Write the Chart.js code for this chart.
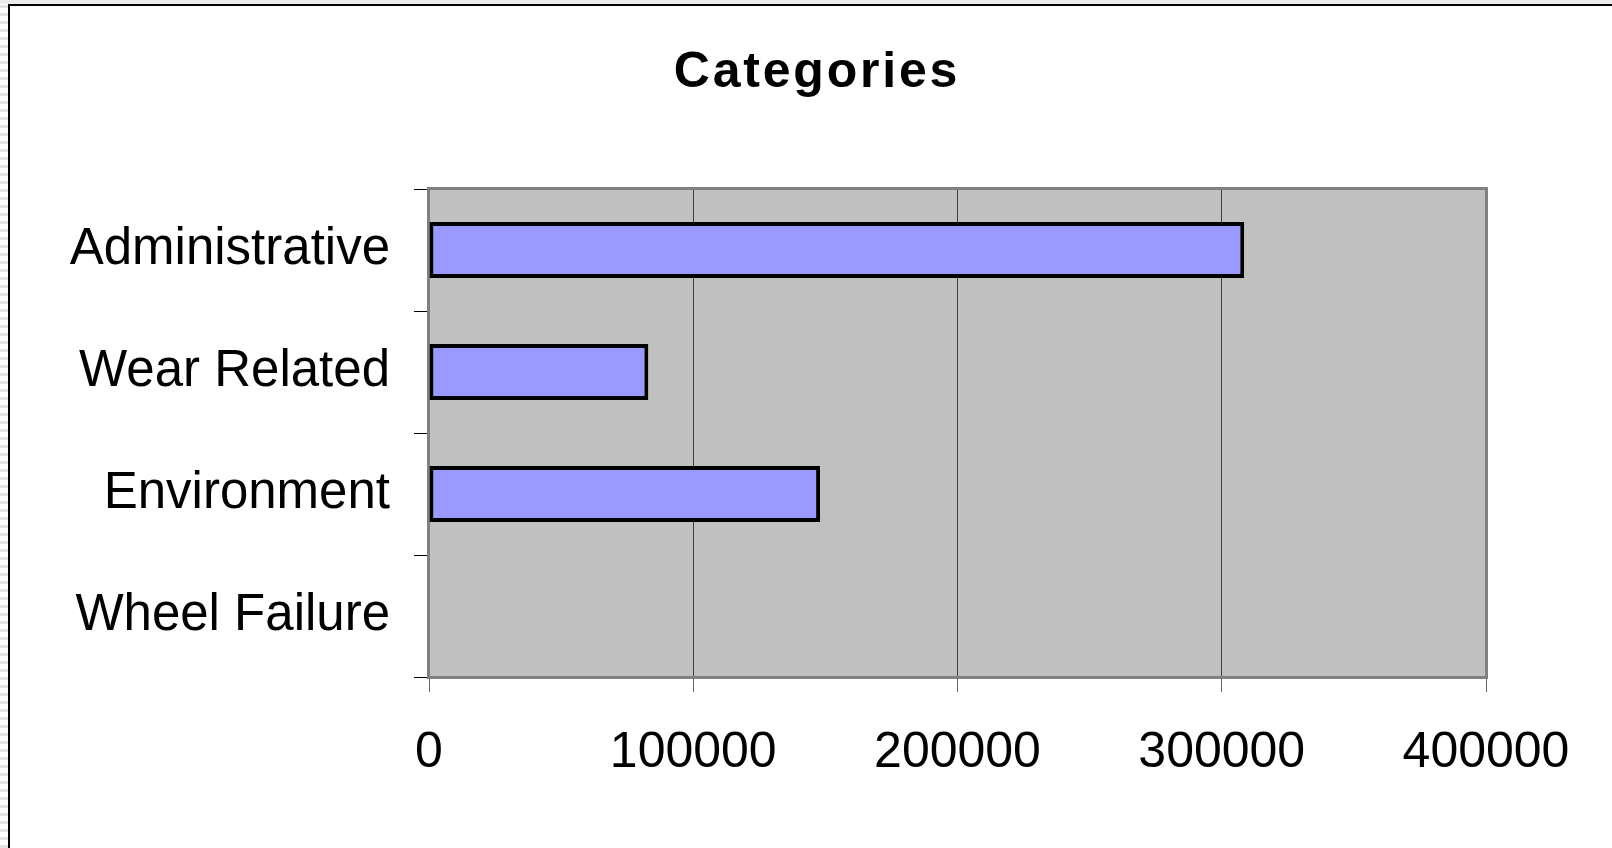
<!DOCTYPE html>
<html>
<head>
<meta charset="utf-8">
<title>Categories</title>
<script src="https://cdn.jsdelivr.net/npm/chart.js@4.4.1/dist/chart.umd.min.js"></script>
<style>
  html, body { margin: 0; padding: 0; background: #ffffff; }
  #page { position: relative; width: 1612px; height: 848px; overflow: hidden; background: #ffffff; }
  #strip { position: absolute; left: 0; top: 0; width: 8px; height: 848px;
    background: repeating-linear-gradient(to bottom, #ffffff 0px, #ffffff 5px, #e4e4e4 5px, #e4e4e4 8px); }
  #topband { position: absolute; left: 0; top: 0; width: 1612px; height: 4px; background: #ececec; }
  #frame { position: absolute; left: 8px; top: 4px; width: 1604px; height: 844px;
    border-left: 2px solid #000; border-top: 2px solid #000; box-sizing: border-box; background: #fff; }
  #title { position: absolute; left: 0; top: 45px; width: 1612px; padding-left: 22px; box-sizing: border-box;
    text-align: center; font: bold 50px "Liberation Sans", Arial, sans-serif; line-height: 50px;
    letter-spacing: 2.8px; color: #000; }
  #wrap { position: absolute; left: 0; top: 0; width: 1612px; height: 848px; }
</style>
</head>
<body>
<div id="page">
  <div id="strip"></div>
  <div id="topband"></div>
  <div id="frame"></div>
  <div id="title">Categories</div>
  <div id="wrap"><canvas id="chart" width="1612" height="848"></canvas></div>
</div>
<script>
// Categories shown on the vertical axis, top to bottom
const categories = ['Administrative', 'Wear Related', 'Environment', 'Wheel Failure'];
// Totals per category
const totals = [308500, 83000, 148000, 0];
// Value axis tick labels
const valueTicks = [0, 100000, 200000, 300000, 400000];

const FONT = '"Liberation Sans", Arial, sans-serif';

// Grey plot background with a grey frame around the plotting area
const plotFrame = {
  id: 'plotFrame',
  beforeDraw(chart) {
    const { ctx, chartArea: a } = chart;
    ctx.save();
    ctx.fillStyle = '#c0c0c0';
    ctx.fillRect(a.left, a.top, a.right - a.left, a.bottom - a.top);
    ctx.restore();
  },
  beforeDatasetsDraw(chart) {
    const { ctx, chartArea: a } = chart;
    ctx.save();
    ctx.strokeStyle = '#808080';
    ctx.lineWidth = 3;
    ctx.strokeRect(a.left - 0.5, a.top - 0.5, a.right - a.left + 1, a.bottom - a.top + 1);
    ctx.restore();
  }
};

new Chart(document.getElementById('chart'), {
  type: 'bar',
  data: {
    labels: categories,
    datasets: [{
      label: 'Categories',
      data: totals,
      backgroundColor: '#9999ff',
      borderColor: '#000000',
      borderWidth: 4,
      borderSkipped: false,
      barPercentage: 0.46,
      categoryPercentage: 1.0
    }]
  },
  options: {
    indexAxis: 'y',
    responsive: false,
    animation: false,
    devicePixelRatio: 1,
    layout: { padding: { top: 189, right: 126, left: 0, bottom: 0 } },
    plugins: {
      legend: { display: false },
      title: { display: false },
      tooltip: { enabled: false }
    },
    scales: {
      x: {
        min: valueTicks[0],
        max: valueTicks[valueTicks.length - 1],
        afterBuildTicks(scale) { scale.ticks = valueTicks.map(v => ({ value: v })); },
        afterFit(scale) { scale.height = 171; },
        grid: { color: '#404040', lineWidth: 1, tickLength: 15, tickColor: '#666666', drawTicks: true },
        border: { display: false },
        ticks: { color: '#000', font: { family: FONT, size: 50 }, padding: 31, maxRotation: 0,
          callback: v => String(v) }
      },
      y: {
        afterFit(scale) { scale.width = 429; },
        grid: { offset: true, drawOnChartArea: false, tickLength: 15, tickColor: '#000', tickWidth: 1 },
        border: { display: false },
        ticks: { color: '#000', font: { family: FONT, size: 51 }, padding: 24 }
      }
    }
  },
  plugins: [plotFrame]
});
</script>
</body>
</html>
